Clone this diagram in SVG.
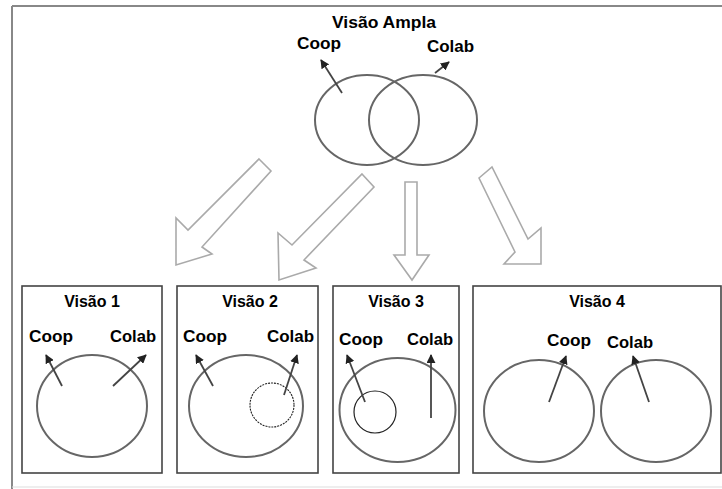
<svg xmlns="http://www.w3.org/2000/svg" width="722" height="489" viewBox="0 0 722 489">
<defs>
<marker id="ah" viewBox="0 0 10 10" refX="9" refY="5" markerWidth="5" markerHeight="5" orient="auto" markerUnits="strokeWidth">
<path d="M0,0 L10,5 L0,10 z" fill="#222"/>
</marker>
<style>
text{font-family:"Liberation Sans",Arial,sans-serif;font-weight:bold;font-size:16px;fill:#000}
.frame{fill:none;stroke:#888;stroke-width:2}
.box{fill:#fff;stroke:#444;stroke-width:1.6}
.circ{fill:none;stroke:#666;stroke-width:2}
.thin{fill:none;stroke:#222;stroke-width:1.2}
.dash{fill:none;stroke:#222;stroke-width:1.1;stroke-dasharray:2 1}
.arr{fill:none;stroke:#444;stroke-width:1.8;marker-end:url(#ah)}
.big{fill:#fff;stroke:#aaa;stroke-width:1.6;stroke-linejoin:miter}
</style>
</defs>
<rect width="722" height="489" fill="#fff"/>
<g id="frame">
<line class="frame" x1="12" y1="6" x2="722" y2="6"/>
<line class="frame" x1="12" y1="6" x2="12" y2="489"/>
<line x1="12" y1="487" x2="722" y2="487" stroke="#ddd" stroke-width="1"/>
</g>
<g id="visao-ampla">
<text x="332" y="28" textLength="104" lengthAdjust="spacingAndGlyphs">Visão Ampla</text>
<text x="297" y="49" textLength="44" lengthAdjust="spacingAndGlyphs">Coop</text>
<text x="427" y="52" textLength="47" lengthAdjust="spacingAndGlyphs">Colab</text>
<ellipse class="circ" cx="367" cy="120" rx="52" ry="45"/>
<ellipse class="circ" cx="423" cy="120" rx="54" ry="45"/>
<line class="arr" x1="342" y1="93" x2="321" y2="60"/>
<line class="arr" x1="435" y1="73" x2="449" y2="62"/>
</g>
<g id="connectors">
<polygon class="big" points="259,159 271,171 202,247 212,254 176,265 176,218 188,230"/>
<polygon class="big" points="362,174 374,187 304,260 316,268 279,280 278,233 292,245"/>
<polygon class="big" points="405,182 417,182 417,255 429,255 412,280 394,255 405,255"/>
<polygon class="big" points="479,178 492,167 528,239 541,228 541,264 504,264 515,252"/>
</g>
<g id="visao-1">
<rect class="box" x="22" y="286" width="140" height="187"/>
<text x="92" y="307" text-anchor="middle">Visão 1</text>
<text x="29" y="342" textLength="44" lengthAdjust="spacingAndGlyphs">Coop</text>
<text x="110" y="342" textLength="46" lengthAdjust="spacingAndGlyphs">Colab</text>
<ellipse class="circ" cx="92" cy="406" rx="55" ry="51"/>
<line class="arr" x1="62" y1="386" x2="46" y2="355"/>
<line class="arr" x1="113" y1="386" x2="146" y2="355"/>
</g>
<g id="visao-2">
<rect class="box" x="177" y="286" width="141" height="187"/>
<text x="250" y="307" text-anchor="middle">Visão 2</text>
<text x="183" y="342" textLength="44" lengthAdjust="spacingAndGlyphs">Coop</text>
<text x="267" y="342" textLength="47" lengthAdjust="spacingAndGlyphs">Colab</text>
<ellipse class="circ" cx="246" cy="406" rx="57" ry="51"/>
<ellipse class="dash" cx="272" cy="405" rx="22" ry="22"/>
<line class="arr" x1="284" y1="395" x2="297" y2="355"/>
<line class="arr" x1="213" y1="386" x2="196" y2="355"/>
</g>
<g id="visao-3">
<rect class="box" x="333" y="286" width="126" height="187"/>
<text x="396" y="307" text-anchor="middle">Visão 3</text>
<text x="339" y="345" textLength="44" lengthAdjust="spacingAndGlyphs">Coop</text>
<text x="407" y="345" textLength="46" lengthAdjust="spacingAndGlyphs">Colab</text>
<ellipse class="circ" cx="397.5" cy="410" rx="58" ry="52"/>
<ellipse class="thin" cx="375" cy="412" rx="21" ry="21"/>
<line class="arr" x1="365" y1="402" x2="347" y2="355"/>
<line class="arr" x1="431" y1="418" x2="431" y2="355"/>
</g>
<g id="visao-4">
<rect class="box" x="473" y="286" width="248" height="187"/>
<text x="597" y="307" text-anchor="middle">Visão 4</text>
<text x="547" y="346" textLength="44" lengthAdjust="spacingAndGlyphs">Coop</text>
<text x="607" y="348" textLength="46" lengthAdjust="spacingAndGlyphs">Colab</text>
<ellipse class="circ" cx="539" cy="411" rx="55" ry="51"/>
<ellipse class="circ" cx="656" cy="411" rx="55" ry="51"/>
<line class="arr" x1="549" y1="402" x2="566" y2="356"/>
<line class="arr" x1="649" y1="402" x2="633" y2="356"/>
</g>
</svg>
